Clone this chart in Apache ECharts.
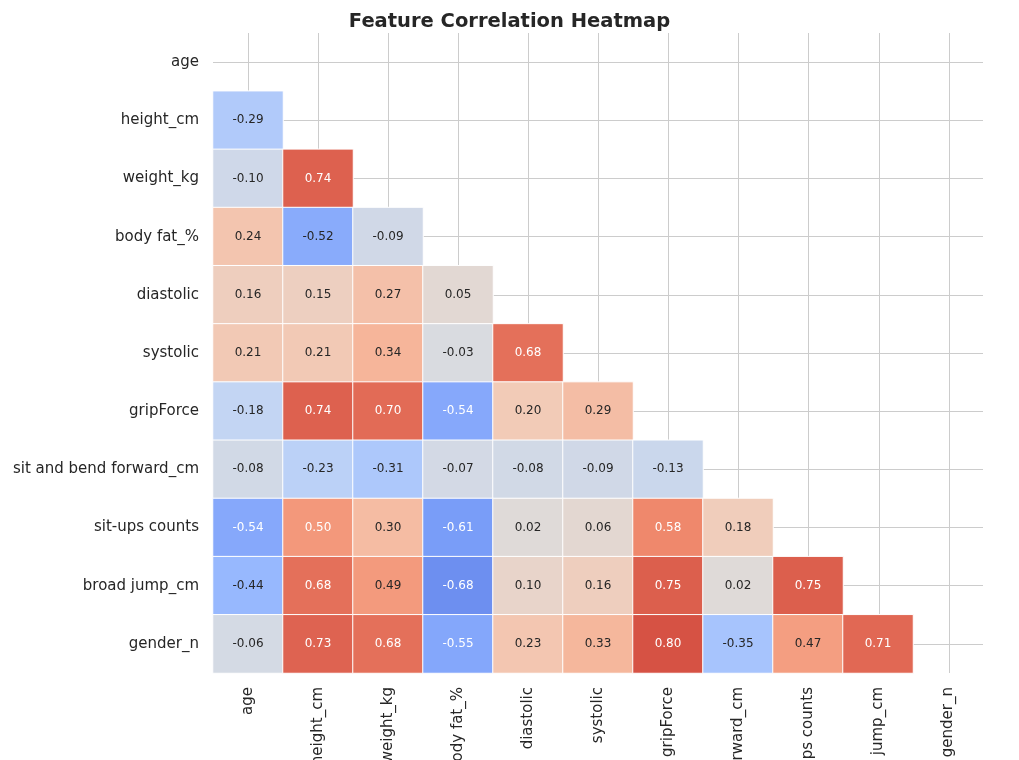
<!DOCTYPE html>
<html>
<head>
<meta charset="utf-8">
<title>Feature Correlation Heatmap</title>
<script src="https://cdn.jsdelivr.net/npm/echarts@6/dist/echarts.min.js"></script>
<style>
	html,body{margin:0;padding:0;background:#fff;}
	#chart{width:1019px;height:760px;}
</style>
</head>
<body>
<div id="chart"></div>
<script>
	var features=["age","height_cm","weight_kg","body fat_%","diastolic","systolic","gripForce","sit and bend forward_cm","sit-ups counts","broad jump_cm","gender_n"];
	// lower triangle, row i has i values (columns 0..i-1)
	var corrRows=[
		[],
		[-0.29],
		[-0.10,0.74],
		[0.24,-0.52,-0.09],
		[0.16,0.15,0.27,0.05],
		[0.21,0.21,0.34,-0.03,0.68],
		[-0.18,0.74,0.70,-0.54,0.20,0.29],
		[-0.08,-0.23,-0.31,-0.07,-0.08,-0.09,-0.13],
		[-0.54,0.50,0.30,-0.61,0.02,0.06,0.58,0.18],
		[-0.44,0.68,0.49,-0.68,0.10,0.16,0.75,0.02,0.75],
		[-0.06,0.73,0.68,-0.55,0.23,0.33,0.80,-0.35,0.47,0.71]
	];

	var data=[];
	for(var i=0;i<corrRows.length;i++){
		for(var j=0;j<corrRows[i].length;j++){
			var v=corrRows[i][j];
			var light=(v>=0.5||v<=-0.54);
			data.push({value:[j,i,v],label:{color:light?"#fff":"#262626"}});
		}
	}
	// half-cell categories, used only to put grid lines through the cell centres
	var halvesY=[],halvesX=[];
	for(var k=0;k<features.length*2;k++) halvesY.push(String(k));
	for(var k=0;k<features.length*2+1;k++) halvesX.push(String(k));

	var font="DejaVu Sans";
	var oddOnly=function(idx){return idx%2===1;};
	var lineStyle={color:"#cccccc",width:1};
	var chart=echarts.init(document.getElementById("chart"));
	chart.setOption({
		animation:false,
		textStyle:{fontFamily:font},
		title:{text:"Feature Correlation Heatmap",left:"center",top:7,
			textStyle:{fontFamily:font,fontSize:19.5,fontWeight:"bold",color:"#262626"}},
		grid:[
			{left:213,right:36,top:33,bottom:87,outerBoundsMode:"none",containLabel:false},
			// vertical grid lines: one extra half cell to the right so the edge line falls off the canvas
			{left:213,right:0,top:33,bottom:87,outerBoundsMode:"none",containLabel:false}
		],
		xAxis:[
			{type:"category",data:features,position:"bottom",gridIndex:0,
				axisLine:{show:false},axisTick:{show:false},splitLine:{show:false},
				axisLabel:{rotate:90,fontSize:15,color:"#262626",margin:14,interval:0}},
			{type:"category",data:halvesX,position:"top",gridIndex:1,
				axisLine:{show:false},axisTick:{show:false},axisLabel:{show:false},
				splitLine:{show:true,interval:oddOnly,lineStyle:lineStyle}}
		],
		yAxis:[
			{type:"category",data:features,inverse:true,gridIndex:0,
				axisLine:{show:false},axisTick:{show:false},splitLine:{show:false},
				axisLabel:{fontSize:15,color:"#262626",margin:14,interval:0}},
			{type:"category",data:halvesY,position:"right",gridIndex:0,
				axisLine:{show:false},axisTick:{show:false},axisLabel:{show:false},
				splitLine:{show:true,showMaxLine:false,interval:oddOnly,lineStyle:lineStyle}},
			{type:"category",data:["a"],gridIndex:1,show:false}
		],
		visualMap:{show:false,min:-1,max:1,dimension:2,seriesIndex:0,
			inRange:{color:["#3b4cc0","#5977e3","#7b9ff9","#9ebeff","#c0d4f5","#dddcdc","#f2cbb7","#f7ac8e","#ee8468","#d65244","#b40426"]}},
		series:[{
			type:"heatmap",xAxisIndex:0,yAxisIndex:0,
			data:data,z:5,
			itemStyle:{borderColor:"#fff",borderWidth:1},
			label:{show:true,fontSize:12,fontFamily:font,
				formatter:function(p){return p.value[2].toFixed(2);}}
		}]
	});
</script>
</body>
</html>
